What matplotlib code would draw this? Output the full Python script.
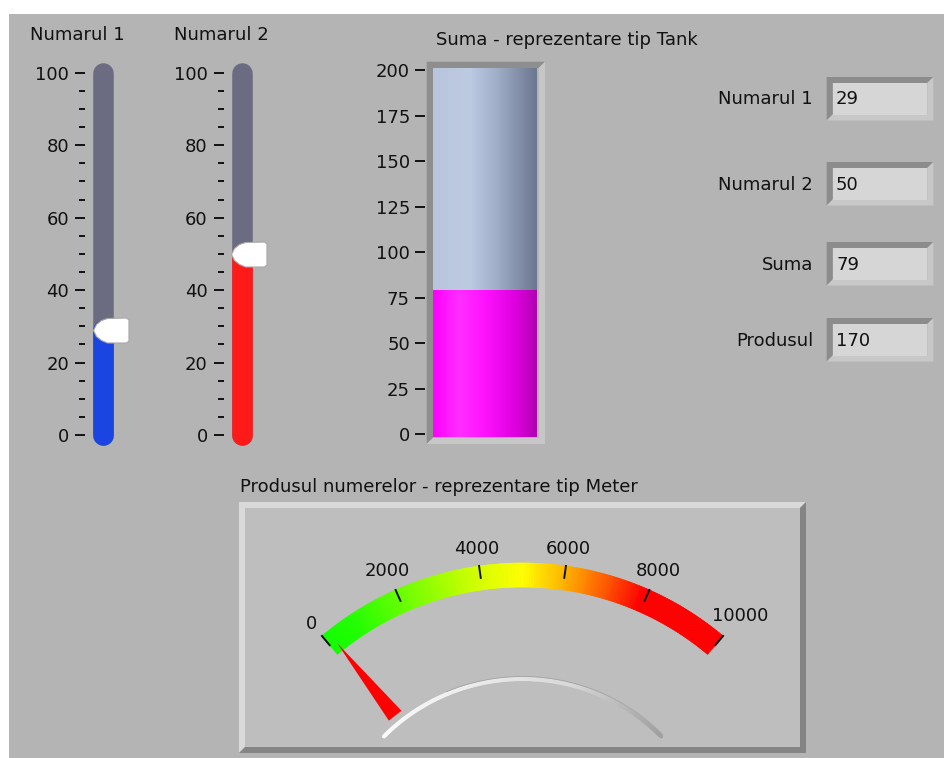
import numpy as np
import matplotlib.pyplot as plt
from matplotlib.patches import Rectangle, Polygon, Wedge
from matplotlib.path import Path
from matplotlib.collections import LineCollection
from matplotlib.colors import LinearSegmentedColormap, to_rgb

plt.rcParams['font.family'] = ['DejaVu Sans']

# valorile de pe panou
numarul1 = 29
numarul2 = 50
suma = 79
produsul = 170

slider_titles = ['Numarul 1', 'Numarul 2']
slider_values = [numarul1, numarul2]
slider_ticks = [0, 20, 40, 60, 80, 100]
tank_title = 'Suma - reprezentare tip Tank'
tank_ticks = [0, 25, 50, 75, 100, 125, 150, 175, 200]
ind_labels = ['Numarul 1', 'Numarul 2', 'Suma', 'Produsul']
ind_values = [numarul1, numarul2, suma, produsul]
meter_title = 'Produsul numerelor - reprezentare tip Meter'
meter_ticks = [0, 2000, 4000, 6000, 8000, 10000]

W, H = 945, 758
FS = 13
TXT = '#111111'

fig = plt.figure(figsize=(W / 100, H / 100), dpi=100)
fig.patch.set_facecolor('white')


def px_axes(x0, y0, x1, y1):
    # axe puse in pixeli, originea sus-stanga
    return fig.add_axes([x0 / W, 1 - y1 / H, (x1 - x0) / W, (y1 - y0) / H])


def bevel(ax, x0, y0, x1, y1, t, c_tl, c_br, face):
    ax.add_patch(Polygon([(x0, y1), (x0, y0), (x1, y0), (x1 - t, y0 + t),
                          (x0 + t, y0 + t), (x0 + t, y1 - t)], color=c_tl, lw=0))
    ax.add_patch(Polygon([(x1, y0), (x1, y1), (x0, y1), (x0 + t, y1 - t),
                          (x1 - t, y1 - t), (x1 - t, y0 + t)], color=c_br, lw=0))
    ax.add_patch(Rectangle((x0 + t, y0 + t), x1 - x0 - 2 * t, y1 - y0 - 2 * t,
                           color=face, lw=0))


def hgrad(stops):
    # gradient orizontal pentru imshow
    xs = np.linspace(0, 1, 128)
    pos = [s[0] for s in stops]
    cols = np.array([to_rgb(s[1]) for s in stops])
    return np.stack([np.interp(xs, pos, cols[:, k]) for k in range(3)], axis=-1)[None, :, :]


# fundalul panoului
bg = px_axes(0, 0, W, H)
bg.set_xlim(0, W)
bg.set_ylim(H, 0)
bg.axis('off')
bg.add_patch(Rectangle((9, 14), W - 9, H - 14, color='#b4b4b4', lw=0))

# --- slidere verticale ---
thumb = Path([(0, 0), (3, 6), (8, 10), (14, 12), (33, 12.5), (35.5, 10.5),
              (35.5, -10.5), (33, -12.5), (14, -12.5), (8, -10), (3, -6), (0, 0)],
             closed=True)
slider_x = [92.7, 231.3]
slider_title_x = [77, 221]
slider_colors = ['#1a45e0', '#ff1a1a']
for title, val, x0, tx, col in zip(slider_titles, slider_values, slider_x,
                                   slider_title_x, slider_colors):
    ax = px_axes(x0, 72.7, x0 + 20.6, 435)
    ax.set_xlim(0, 1)
    ax.set_ylim(0, 100)
    ax.patch.set_visible(False)
    for s in ax.spines.values():
        s.set_visible(False)
    ax.spines['left'].set_position(('outward', 5.5))
    ax.set_xticks([])
    ax.set_yticks(slider_ticks)
    ax.set_yticks(range(0, 101, 5), minor=True)
    ax.tick_params(axis='y', which='major', length=7.2, width=1.4, color=TXT,
                   pad=4.3, labelsize=FS, labelcolor=TXT)
    ax.tick_params(axis='y', which='minor', length=4.5, width=1.4, color=TXT)
    ax.plot([0.5, 0.5], [0, 100], lw=14.8, color='#6b6b82',
            solid_capstyle='round', clip_on=False)
    ax.plot([0.5, 0.5], [0, val], lw=14.8, color=col,
            solid_capstyle='round', clip_on=False)
    ax.plot([0], [val], marker=thumb, ms=51.1, mfc='white', mec='#a8a8a8',
            mew=0.8, clip_on=False, zorder=5)
    bg.text(tx, 35, title, ha='center', va='center', fontsize=FS, color=TXT)

# --- tank pentru suma ---
bevel(bg, 426.7, 61.7, 545, 444, 6.5, '#8e8e8e', '#c6c6c6', '#b4b4b4')
px_per = (434.3 - 70) / 200
ylo = -(436.7 - 434.3) / px_per
yhi = 200 + (70 - 68.3) / px_per
axt = px_axes(433.3, 68.3, 537.3, 436.7)
empty_stops = [(0, '#b9c5dd'), (0.35, '#bccae2'), (0.6, '#a2b0c9'), (1, '#6b778f')]
fill_stops = [(0, '#ff00ff'), (0.25, '#ff2eff'), (0.5, '#ff12ff'), (0.8, '#dd00dd'), (1, '#b000b0')]
axt.imshow(hgrad(empty_stops), extent=(0, 1, suma, yhi), aspect='auto', interpolation='bilinear')
axt.imshow(hgrad(fill_stops), extent=(0, 1, ylo, suma), aspect='auto', interpolation='bilinear')
axt.set_xlim(0, 1)
axt.set_ylim(ylo, yhi)
for s in axt.spines.values():
    s.set_visible(False)
axt.spines['left'].set_position(('outward', 6))
axt.set_xticks([])
axt.set_yticks(tank_ticks)
axt.tick_params(axis='y', length=7.2, width=1.4, color=TXT, pad=3.6,
                labelsize=FS, labelcolor=TXT)
bg.text(567, 40, tank_title, ha='center', va='center', fontsize=FS, color=TXT)

# --- indicatoare numerice ---
ind_top = [77, 162, 242, 318]
for lab, v, y0 in zip(ind_labels, ind_values, ind_top):
    bevel(bg, 826.7, y0, 933.3, y0 + 43.5, 6, '#8c8c8c', '#c8c8c8', '#d6d6d6')
    yc = y0 + 22.5
    bg.text(813, yc, lab, ha='right', va='center', fontsize=FS, color=TXT)
    bg.text(836, yc, str(v), ha='left', va='center', fontsize=FS, color=TXT)

# --- meter pentru produs ---
bevel(bg, 239, 502, 806, 753, 6, '#d9d9d9', '#848484', '#bebebe')
bg.text(240, 487, meter_title, ha='left', va='center', fontsize=FS, color=TXT)

XC, YC = 522.5, 875
R_OUT, R_IN = 312, 288
ANG = 40
vmax = meter_ticks[-1]


def val2phi(v):
    return -ANG + 2 * ANG * v / vmax


def pt(r, phi):
    p = np.radians(phi)
    return XC + r * np.sin(p), YC - r * np.cos(p)


band_cmap = LinearSegmentedColormap.from_list('meter', [
    (0, '#10ff00'), (0.08, '#22ff00'), (0.2, '#66ff00'), (0.4, '#d8ff00'),
    (0.5, '#ffff00'), (0.6, '#ffb400'), (0.7, '#ff5a00'), (0.79, '#ff0000'),
    (1, '#ff0000')])
edges = np.linspace(0, vmax, 241)
for a, b in zip(edges[:-1], edges[1:]):
    c = band_cmap((a + b) / 2 / vmax)
    bg.add_patch(Wedge((XC, YC), R_OUT, val2phi(a) - 90, val2phi(b) - 90,
                       width=R_OUT - R_IN, fc=c, ec=c, lw=0.5))

for t in meter_ticks:
    phi = val2phi(t)
    x1, y1 = pt(300, phi)
    x2, y2 = pt(R_OUT, phi)
    bg.plot([x1, x2], [y1, y2], color=TXT, lw=1.4)
    lab = str(t)
    rl = 328 + 4 * (len(lab) - 1) * abs(np.sin(np.radians(phi)))
    lx, ly = pt(rl, phi)
    bg.text(lx, ly, lab, ha='center', va='center', fontsize=FS, color=TXT)

# arcul argintiu de jos
phis = np.linspace(-45, 45, 121)
xs, ys = pt(196, phis)
segs = [[(xs[i], ys[i]), (xs[i + 1], ys[i + 1])] for i in range(len(phis) - 1)]
arc_cmap = LinearSegmentedColormap.from_list('arc', ['#fafafa', '#ececec', '#d8d8d8', '#a0a0a0'])
bg.add_collection(LineCollection(segs, colors=arc_cmap(np.linspace(0, 1, len(segs))),
                                 lw=2.9, capstyle='round'))
xs2, ys2 = pt(198.5, phis[30:])
bg.plot(xs2, ys2, color='#a4a4a4', lw=0.6)

# acul
phi = val2phi(produsul)
p = np.radians(phi)
tx_, ty_ = pt(297, phi)
bx, by = pt(204, phi)
nx, ny = np.cos(p), np.sin(p)
bg.add_patch(Polygon([(tx_, ty_), (bx + 8 * nx, by + 8 * ny), (bx - 8 * nx, by - 8 * ny)],
                     color='#ff0000', lw=0))

fig.savefig('out.png', dpi=100)
